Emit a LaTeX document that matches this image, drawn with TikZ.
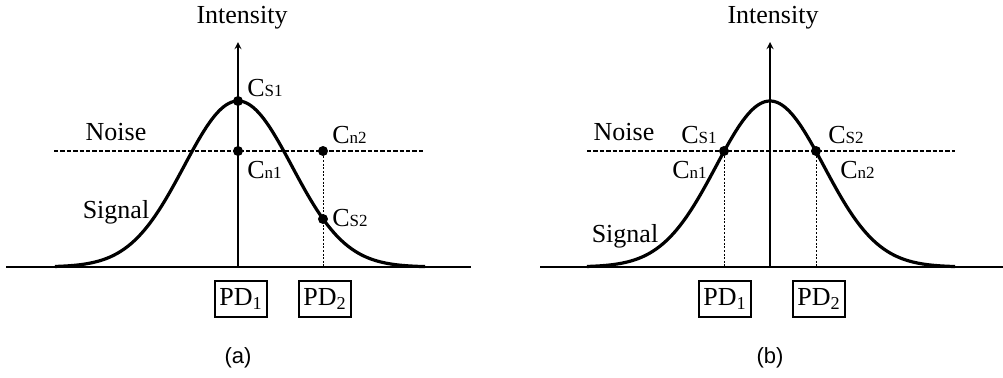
\documentclass[tikz,border=0pt]{standalone}
\usepackage{fontspec}
\setmainfont{Liberation Serif}
\newfontfamily\capfont{Liberation Sans}
\usetikzlibrary{arrows, positioning}

% smaller letters after the C
\newcommand{\sml}[1]{{\fontsize{8.5}{9}\selectfont #1}}

\begin{document}
\begin{tikzpicture}[x=0.5pt, y=-0.5pt,
  lbl/.style={font=\fontsize{13}{15}\selectfont, inner sep=1pt},
  curve/.style={line width=1.6pt},
  base/.style={line width=1.1pt},
  axis/.style={draw, ->, >=stealth, line width=0.6pt},
  noise/.style={line width=1.1pt, dash pattern=on 2.2pt off 1pt},
  drop/.style={line width=0.5pt, dash pattern=on 1pt off 0.8pt},
  dot/.style={circle, fill=black, inner sep=0pt, minimum size=5pt},
  pd/.style={rectangle, draw=black, line width=0.7pt, inner sep=1pt, minimum width=26pt, minimum height=18pt, font=\fontsize{13}{15}\selectfont},
  caption/.style={font=\capfont\fontsize{11}{13}\selectfont}]

  \useasboundingbox (0,0) rectangle (1003,377);

  % (a)
  \coordinate (al) at (6,267);
  \coordinate (ar) at (471,267);
  \coordinate (ao) at (238,267);
  \coordinate (atop) at (238,42);
  \coordinate (anl) at (54,151);
  \coordinate (anr) at (423,151);
  \coordinate (ad2) at (323,267);
  \draw[base] (al) -- (ar);
  \draw[noise] (anl) -- (anr);
  \draw[curve] plot[domain=55:425, samples=150]
    (\x, {267-166*exp(-0.5*((\x-238)/54)*((\x-238)/54))});
  \draw[axis] (ao) -- (atop);
  \node[lbl] (aint) at (242,18) {Intensity};
  \node[dot] (acs1) at (238,101) {};
  \node[dot] (acn1) at (238,151) {};
  \node[dot] (acn2) at (323,151) {};
  \node[dot] (acs2) at (323,219) {};
  \draw[drop] (acn2) -- (ad2);
  \node[lbl, anchor=west] (acs1l) at (245,88) {C\sml{S1}};
  \node[lbl, anchor=west] (acn1l) at (245,170) {C\sml{n1}};
  \node[lbl, anchor=west] (acn2l) at (330,135) {C\sml{n2}};
  \node[lbl, anchor=west] (acs2l) at (330,218) {C\sml{S2}};
  \node[lbl] (anoise) at (116,132) {Noise};
  \node[lbl] (asig) at (116,212) {Signal};
  \node[pd] (apd1) at (241,299) {PD\textsubscript{1}};
  \node[pd] (apd2) at (325,299) {PD\textsubscript{2}};
  \node[caption] (acap) at (238,358) {(a)};

  % (b)
  \coordinate (bl) at (540,267);
  \coordinate (br) at (1003,267);
  \coordinate (bo) at (770,267);
  \coordinate (btop) at (770,42);
  \coordinate (bnl) at (587,151);
  \coordinate (bnr) at (955,151);
  \coordinate (bd1) at (724,267);
  \coordinate (bd2) at (816,267);
  \draw[base] (bl) -- (br);
  \draw[noise] (bnl) -- (bnr);
  \draw[curve] plot[domain=587:955, samples=150]
    (\x, {267-166*exp(-0.5*((\x-770)/54)*((\x-770)/54))});
  \draw[axis] (bo) -- (btop);
  \node[lbl] (bint) at (773,18) {Intensity};
  \node[dot] (bc1) at (724,151) {};
  \node[dot] (bc2) at (816,151) {};
  \draw[drop] (bc1) -- (bd1);
  \draw[drop] (bc2) -- (bd2);
  \node[lbl, anchor=east] (bcs1l) at (719,135) {C\sml{S1}};
  \node[lbl, anchor=east] (bcn1l) at (709,170) {C\sml{n1}};
  \node[lbl, anchor=west] (bcs2l) at (826,135) {C\sml{S2}};
  \node[lbl, anchor=west] (bcn2l) at (838,170) {C\sml{n2}};
  \node[lbl] (bnoise) at (624,132) {Noise};
  \node[lbl] (bsig) at (625,236) {Signal};
  \node[pd] (bpd1) at (725,299) {PD\textsubscript{1}};
  \node[pd] (bpd2) at (819,299) {PD\textsubscript{2}};
  \node[caption] (bcap) at (770,358) {(b)};
\end{tikzpicture}
\end{document}
